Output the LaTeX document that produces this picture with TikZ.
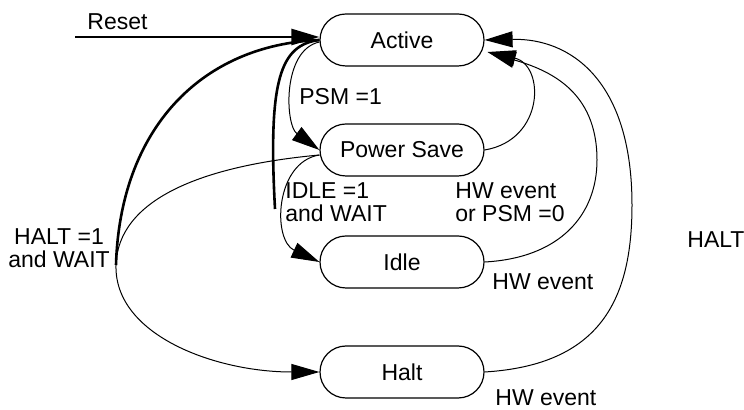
\documentclass[tikz,border=0pt]{standalone}
\usepackage{fontspec}
\setmainfont{Liberation Sans}
\usetikzlibrary{shapes.misc,arrows.meta}
\begin{document}
\begin{tikzpicture}[x=0.5pt,y=-0.5pt,
  font=\fontsize{11.5}{11.5}\selectfont,
  state/.style={rounded rectangle, draw, line width=0.6pt, minimum width=82pt, minimum height=26pt, inner sep=0pt},
  lbl/.style={inner sep=0pt},
  thinline/.style={line width=0.5pt},
  thickline/.style={line width=1.3pt},
  tip/.style={-{Triangle[length=14pt,width=8pt]}}]
\useasboundingbox (0,0) rectangle (744,410);
% states
\node[state] (Active) at (402,40) {Active};
\node[state] (PS) at (402,150) {Power Save};
\node[state] (Idle) at (402,262) {Idle};
\node[state] (Halt) at (402,372) {Halt};
% free ends
\coordinate (rs) at (75,37);
\coordinate (hj) at (116,265);
\coordinate (ib) at (275,209);
% reset and thick lines
\draw[thickline,tip] (rs) -- (rs -| Active.west);
\draw[thickline] (hj) .. controls (120,130) and (200,45) .. (Active.west);
\draw[thickline] (ib) .. controls (268,80) and (280,45) .. (Active.west);
% left transitions
\draw[thinline,tip] ([yshift=-1pt]Active.west) .. controls (282,50) and (285,125) .. (PS.west);
\draw[thinline,tip] ([yshift=-2.5pt]PS.west) .. controls (275,162) and (272,240) .. (Idle.west);
\draw[thinline,tip] ([yshift=-2.5pt]PS.west) .. controls (200,166) and (118,200) .. (hj) .. controls (114,335) and (215,372) .. (Halt.west);
% right transitions
\draw[thinline,tip] (PS.east) .. controls (545,140) and (545,65) .. ([xshift=1.5pt,yshift=-6pt]Active.east);
\draw[thinline,tip] (Idle.east) .. controls (560,258) and (597,215) .. (597,160) .. controls (597,90) and (548,70) .. ([xshift=1.5pt,yshift=-6pt]Active.east);
\draw[thinline,tip] (Halt.east) .. controls (600,365) and (632,300) .. (632,205) .. controls (632,80) and (570,38) .. (Active.east);
% labels
\node[lbl,anchor=base west] (lreset) at (87,30) {Reset};
\node[lbl,anchor=base west] (lpsm) at (299,105) {PSM =1};
\node[lbl,anchor=north west,align=left] (lidle) at (285,182) {IDLE =1\\and WAIT};
\node[lbl,anchor=north west,align=left] (lhw1) at (455,182) {HW event\\or PSM =0};
\node[lbl,anchor=north,align=center] (lhalt) at (59,228) {HALT =1\\and WAIT};
\node[lbl,anchor=base west] (lhw2) at (492,290) {HW event};
\node[lbl,anchor=base west] (lhw3) at (495,406) {HW event};
\node[lbl,anchor=base west] (lhaltr) at (687,248) {HALT};
\end{tikzpicture}
\end{document}
